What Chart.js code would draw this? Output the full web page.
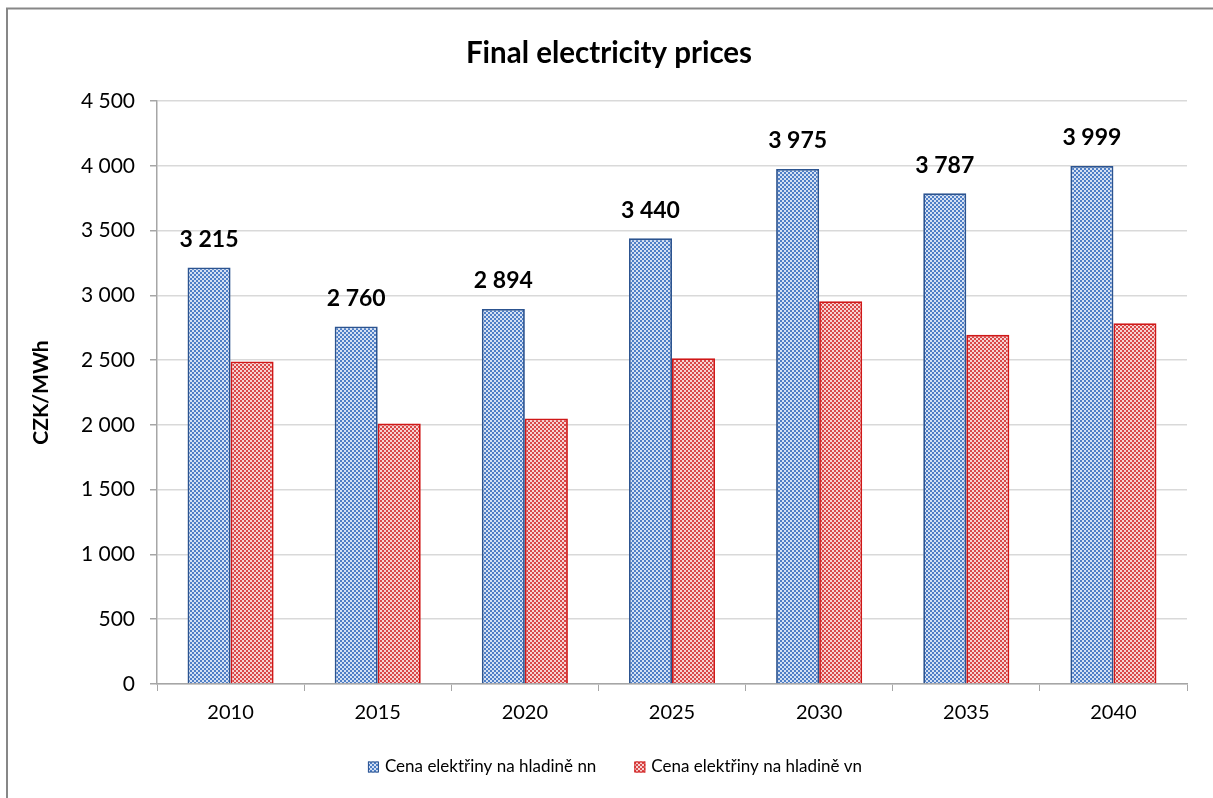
<!DOCTYPE html>
<html>
<head>
<meta charset="utf-8">
<script src="https://cdn.jsdelivr.net/npm/chart.js@4.4.1/dist/chart.umd.min.js"></script>
<style>
  html, body { margin: 0; padding: 0; background: #fff; overflow: hidden; }
  #wrap { width: 1213px; height: 798px; position: relative; }
  canvas { display: block; }
</style>
</head>
<body>
<div id="wrap"><canvas id="c" width="1213" height="798"></canvas></div>
<script>
const categories = ['2010', '2015', '2020', '2025', '2030', '2035', '2040'];
const nnValues = [3215, 2760, 2894, 3440, 3975, 3787, 3999];
const vnValues = [2490, 2010, 2050, 2515, 2955, 2695, 2785];
const seriesNames = ['Cena elektřiny na hladině nn', 'Cena elektřiny na hladině vn'];
const chartTitle = 'Final electricity prices';
const yAxisTitle = 'CZK/MWh';
const yMax = 4500;
const yStep = 500;

const FONT = 'Lato, "Open Sans", sans-serif';

function fmt(v) {
  return String(v).replace(/\B(?=(\d{3})+(?!\d))/g, ' ');
}

function makePattern(light, dark) {
  const p = document.createElement('canvas');
  p.width = 4; p.height = 4;
  const g = p.getContext('2d');
  g.fillStyle = light; g.fillRect(0, 0, 4, 4);
  g.fillStyle = dark;
  g.fillRect(0, 0, 2, 2);
  g.fillRect(2, 2, 2, 2);
  return g.createPattern(p, 'repeat');
}

const ctx = document.getElementById('c').getContext('2d');
const bluePattern = makePattern('#d6e1f3', '#4f7fc6');
const redPattern = makePattern('#f6d3d3', '#d94848');
const borderColors = ['#2c5490', '#d01818'];
const fills = [bluePattern, redPattern];

function drawFrame(c) {
  c.save();
  c.strokeStyle = '#878787';
  c.lineWidth = 2;
  c.beginPath();
  c.moveTo(7, 830);
  c.lineTo(7, 8.5);
  c.lineTo(1250, 8.5);
  c.stroke();
  c.restore();
}

const framePlugin = {
  id: 'frame',
  beforeDraw(chart) {
    const c = chart.ctx;
    c.save();
    c.fillStyle = '#ffffff';
    c.fillRect(0, 0, chart.width, chart.height);
    c.restore();
  },
  afterDraw(chart) {
    const c = chart.ctx;
    c.save();
    c.fillStyle = '#ffffff';
    c.fillRect(1194, 0, 40, chart.height);
    c.restore();
    drawFrame(c);
  }
};

const titlePlugin = {
  id: 'titleCentered',
  afterLayout(chart) {
    const t = chart.titleBlock;
    if (t) {
      t.left = 0;
      t.right = 1218;
      t.width = 1218;
    }
  }
};

const legendPlugin = {
  id: 'customLegend',
  afterDraw(chart) {
    const c = chart.ctx;
    c.save();
    c.font = '17px ' + FONT;
    const box = 11, gap = 6, spacing = 38;
    const widths = seriesNames.map(n => c.measureText(n).width);
    const total = widths.reduce((a, w) => a + box + gap + w, 0) + spacing * (seriesNames.length - 1);
    let x = 615 - total / 2;
    const yc = 767;
    c.textBaseline = 'middle';
    c.textAlign = 'left';
    seriesNames.forEach((n, i) => {
      c.fillStyle = fills[i];
      c.fillRect(x, yc - box / 2, box, box);
      c.strokeStyle = borderColors[i];
      c.lineWidth = 1;
      c.strokeRect(x + 0.5, yc - box / 2 + 0.5, box - 1, box - 1);
      c.fillStyle = '#000';
      c.fillText(n, x + box + gap, yc);
      x += box + gap + widths[i] + spacing;
    });
    c.restore();
  }
};

const labelPlugin = {
  id: 'valueLabels',
  afterDatasetsDraw(chart) {
    const meta = chart.getDatasetMeta(0);
    const c = chart.ctx;
    c.save();
    c.font = 'bold 23px ' + FONT;
    c.fillStyle = '#000';
    c.textAlign = 'center';
    c.textBaseline = 'middle';
    meta.data.forEach((bar, i) => {
      c.fillText(fmt(nnValues[i]), bar.x, bar.y - 28);
    });
    c.restore();
  }
};

new Chart(ctx, {
  type: 'bar',
  data: {
    labels: categories,
    datasets: [
      {
        label: seriesNames[0],
        data: nnValues,
        backgroundColor: bluePattern,
        borderColor: borderColors[0],
        borderWidth: 1.8,
        borderSkipped: 'bottom'
      },
      {
        label: seriesNames[1],
        data: vnValues,
        backgroundColor: redPattern,
        borderColor: borderColors[1],
        borderWidth: 1.8,
        borderSkipped: 'bottom'
      }
    ]
  },
  options: {
    responsive: false,
    animation: false,
    devicePixelRatio: 1,
    layout: { padding: { left: 0, right: 26, top: 0, bottom: 54 } },
    datasets: {
      bar: { barPercentage: 1.0, categoryPercentage: 0.585 }
    },
    plugins: {
      title: {
        display: true,
        text: chartTitle,
        color: '#000',
        font: { family: FONT, size: 29.5, weight: 'bold' },
        padding: { top: 35.3, bottom: 30.3 }
      },
      legend: { display: false },
      tooltip: { enabled: false }
    },
    scales: {
      x: {
        grid: {
          display: true,
          drawOnChartArea: false,
          drawTicks: true,
          tickLength: 7,
          color: '#a6a6a6',
          offset: true
        },
        border: { display: true, color: '#a6a6a6', width: 1.5 },
        ticks: {
          color: '#000',
          font: { family: FONT, size: 20 },
          padding: 10
        },
        afterFit(scale) { scale.height = 60; }
      },
      y: {
        min: 0,
        max: yMax,
        ticks: {
          stepSize: yStep,
          color: '#000',
          font: { family: FONT, size: 21 },
          padding: 15,
          callback: (v) => fmt(v)
        },
        grid: {
          color: '#d9d9d9',
          lineWidth: 1.5,
          drawTicks: true,
          tickLength: 7,
          tickColor: '#a6a6a6'
        },
        border: { display: true, color: '#a6a6a6', width: 1.5 },
        title: {
          display: true,
          text: yAxisTitle,
          color: '#000',
          font: { family: FONT, size: 21, weight: 'bold' },
          padding: { top: 29, bottom: 0 }
        },
        afterFit(scale) { scale.width = 157; }
      }
    }
  },
  plugins: [framePlugin, titlePlugin, labelPlugin, legendPlugin]
});
</script>
</body>
</html>
